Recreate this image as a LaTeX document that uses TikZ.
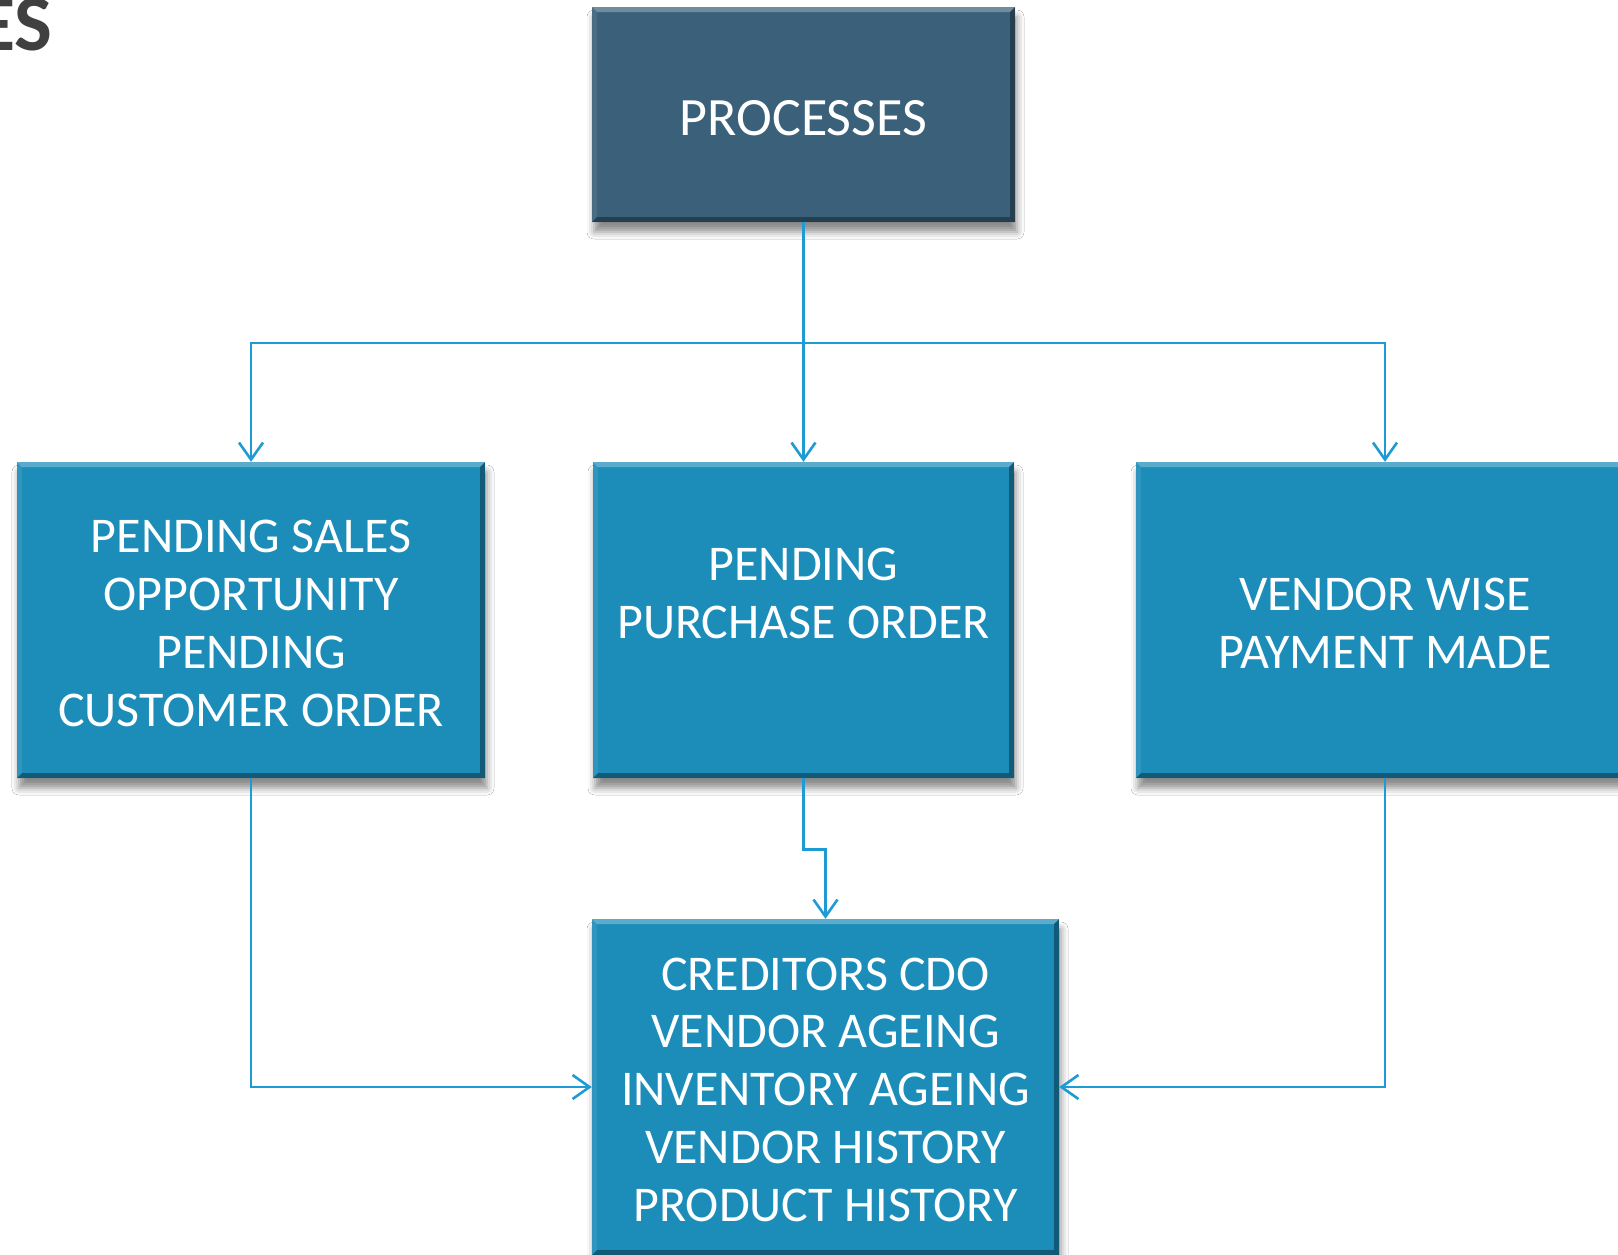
\documentclass[tikz,border=0pt]{standalone}
\usepackage{fontspec}
\setmainfont{Carlito}
\usetikzlibrary{arrows.meta,shadows.blur}
\definecolor{boxblue}{RGB}{28,141,185}
\definecolor{darkbox}{RGB}{59,97,122}
\definecolor{linkblue}{RGB}{30,155,212}
\definecolor{titlegray}{RGB}{64,64,64}
\tikzset{
  bevel/.style={path picture={
    \fill[white,opacity=0.28] (path picture bounding box.north west) -- (path picture bounding box.north east)
      -- ([xshift=-5pt,yshift=-5pt]path picture bounding box.north east) -- ([xshift=5pt,yshift=-5pt]path picture bounding box.north west) -- cycle;
    \fill[white,opacity=0.08] (path picture bounding box.north west) -- ([xshift=5pt,yshift=-5pt]path picture bounding box.north west)
      -- ([xshift=5pt,yshift=5pt]path picture bounding box.south west) -- (path picture bounding box.south west) -- cycle;
    \fill[black,opacity=0.35] (path picture bounding box.south west) -- ([xshift=5pt,yshift=5pt]path picture bounding box.south west)
      -- ([xshift=-5pt,yshift=5pt]path picture bounding box.south east) -- (path picture bounding box.south east) -- cycle;
    \fill[black,opacity=0.35] (path picture bounding box.north east) -- ([xshift=-5pt,yshift=-5pt]path picture bounding box.north east)
      -- ([xshift=-5pt,yshift=5pt]path picture bounding box.south east) -- (path picture bounding box.south east) -- cycle;
  }},
  box/.style={rectangle, fill=boxblue, text=white, align=center, inner sep=0pt,
    font=\fontsize{50}{57.7}\selectfont, text depth=0pt,
    blur shadow={shadow xshift=2pt, shadow yshift=-10pt, shadow blur radius=7pt, shadow opacity=45},
    bevel},
  topbox/.style={box, fill=darkbox, font=\fontsize{54}{60}\selectfont},
  conn/.style={draw=linkblue, line width=2.6pt},
  arr/.style={conn, -{Straight Barb[length=17pt,width=24pt]}},
}
\begin{document}
\begin{tikzpicture}[x=1pt,y=-1pt]
\clip (0,0) rectangle (1618,1254);
\fill[white] (0,0) rectangle (1618,1254);

\node[anchor=base east, text=titlegray, font=\fontsize{80}{80}\selectfont\bfseries] (title) at (56,50) {ES};

\node[topbox, minimum width=423pt, minimum height=215pt, text height=41pt] (P) at (803.5,114.5) {PROCESSES};
\node[box, minimum width=468pt, minimum height=316pt, text height=212pt] (L) at (251,620)
  {PENDING SALES\\OPPORTUNITY\\PENDING\\CUSTOMER ORDER};
\node[box, minimum width=421pt, minimum height=316pt, text height=36pt] (M) at (803.5,620)
  {PENDING\\PURCHASE ORDER};
\node[box, minimum width=498pt, minimum height=316pt, text height=96pt] (R) at (1385,620)
  {VENDOR WISE\\PAYMENT MADE};
\node[box, minimum width=467pt, minimum height=336pt, text height=268pt] (B) at (825.5,1087)
  {CREDITORS CDO\\VENDOR AGEING\\INVENTORY AGEING\\VENDOR HISTORY\\PRODUCT HISTORY};

\coordinate (j) at (P.south |- 0,343);
\draw[conn] (P.south) -- (j);
\draw[arr] (j) -| (L.north);
\draw[arr] (j) -| (R.north);
\draw[arr] (j) -- (M.north);
\draw[arr] (M.south) -- ++(0,71) -| (B.north);
\draw[arr] (L.south) |- (B.west);
\draw[arr] (R.south) |- (B.east);
\end{tikzpicture}
\end{document}
